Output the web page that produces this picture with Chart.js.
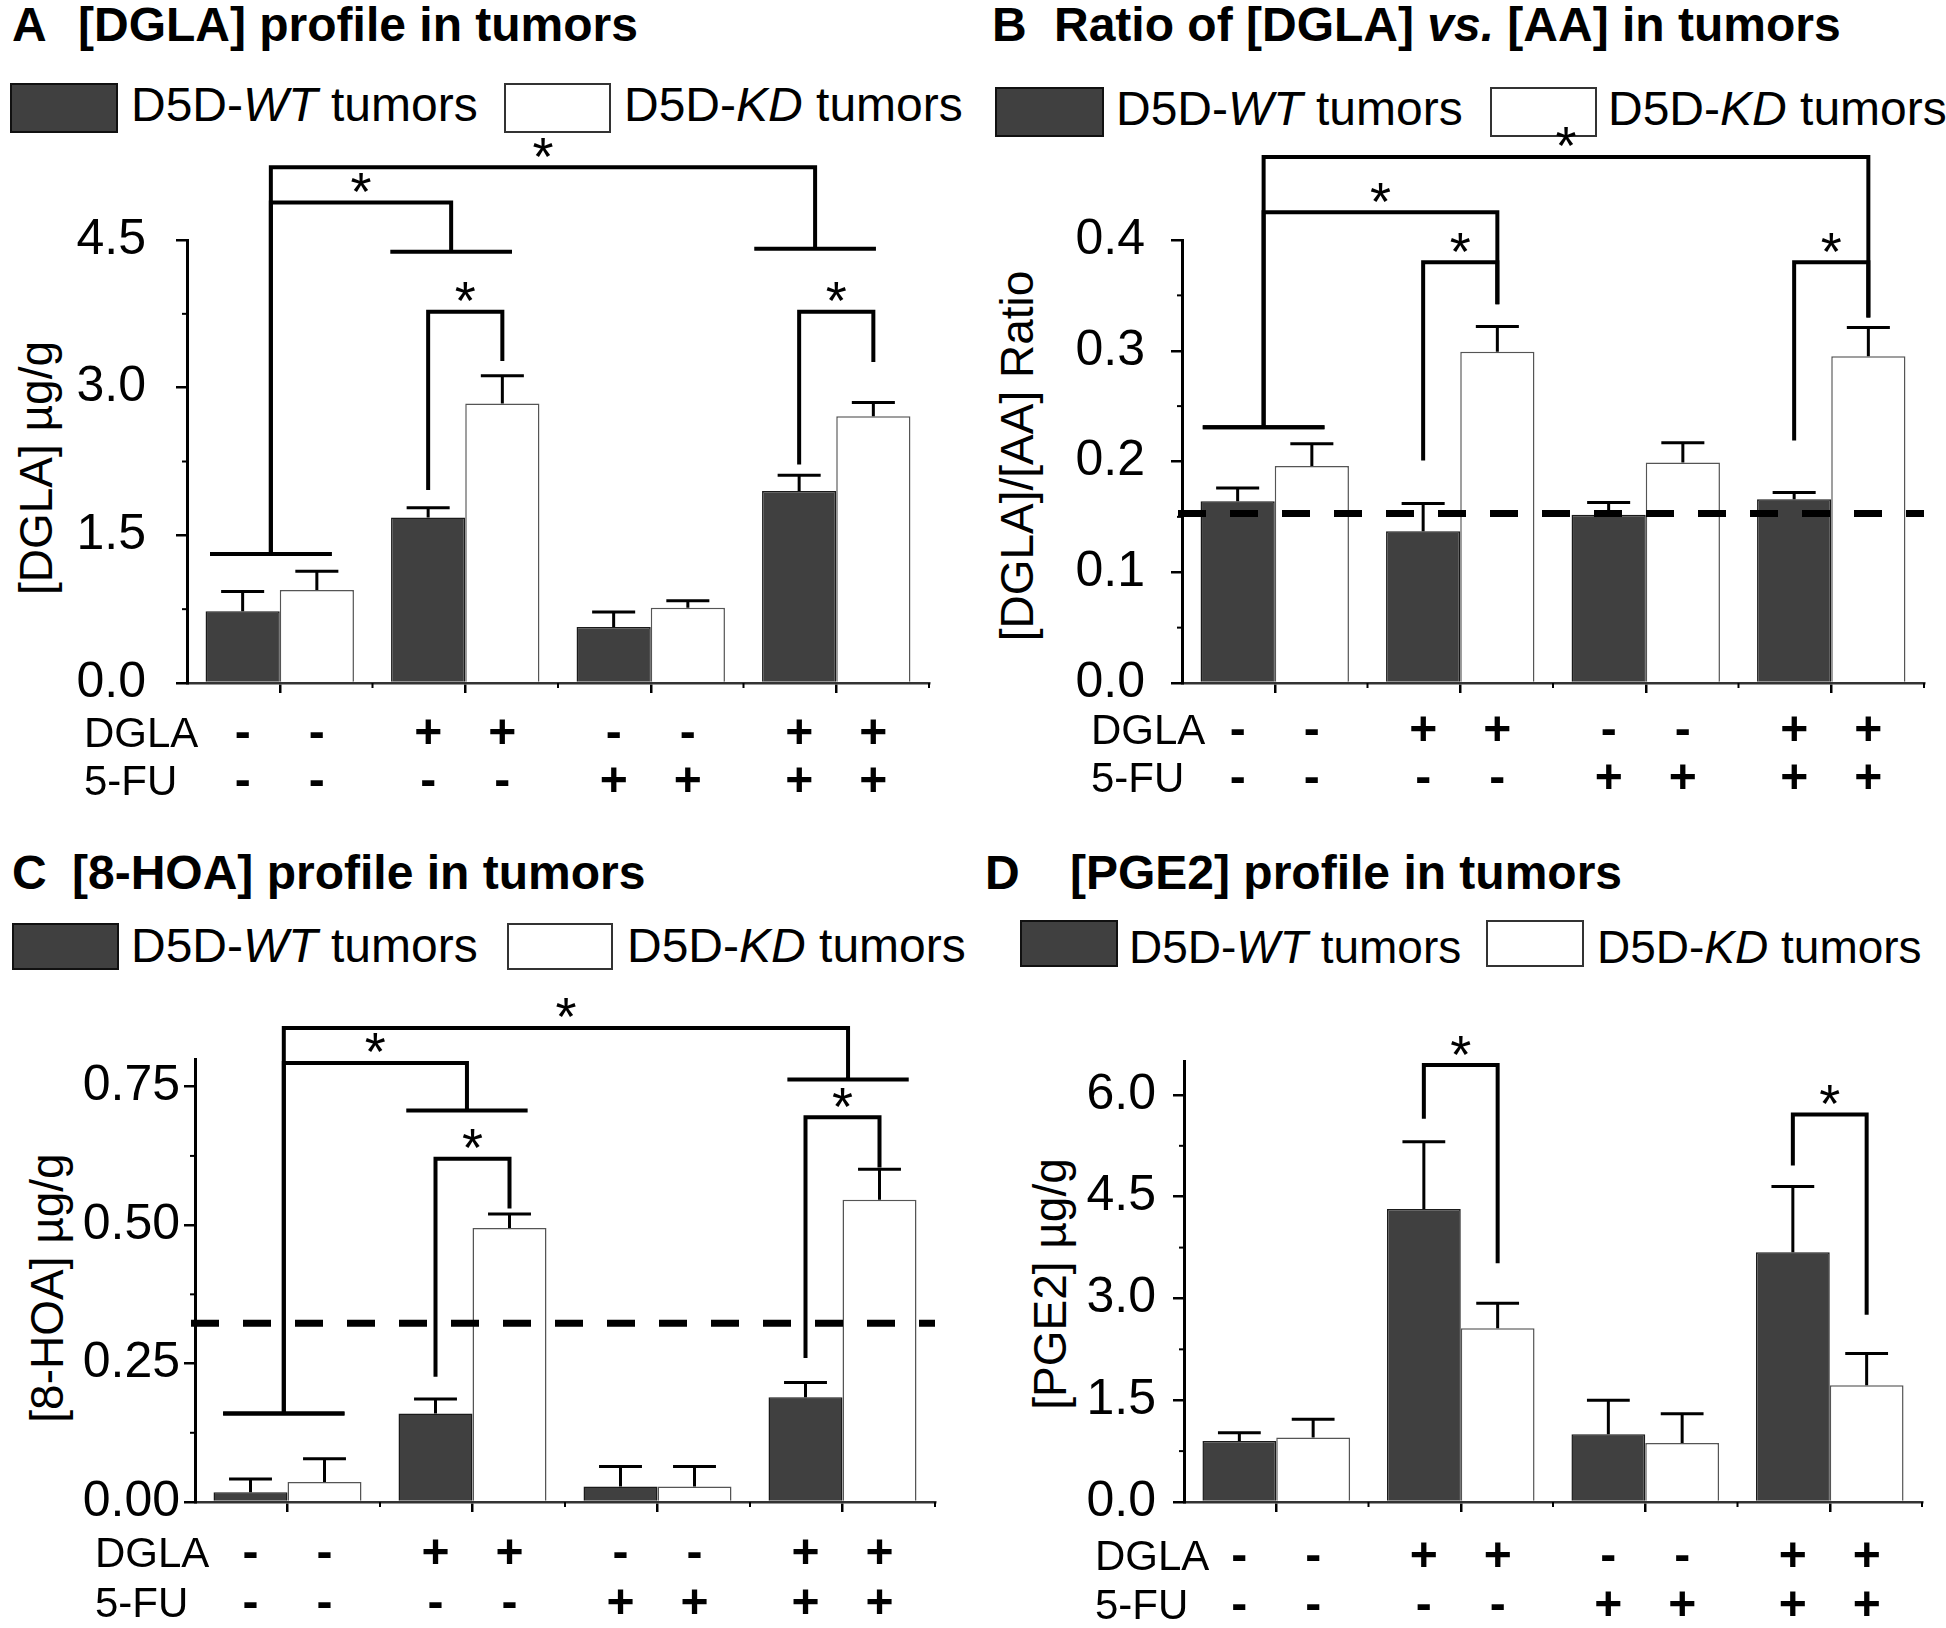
<!DOCTYPE html>
<html>
<head>
<meta charset="utf-8">
<script src="https://cdn.jsdelivr.net/npm/chart.js@4.4.0/dist/chart.umd.min.js"></script>
<style>
  html, body { margin: 0; padding: 0; background: #fff; }
  body { width: 1946px; height: 1628px; position: relative; overflow: hidden;
         font-family: "Liberation Sans", Arial, sans-serif; color: #000; }
  .title { position: absolute; font-weight: bold; font-size: 48px; line-height: 48px; white-space: nowrap; }
  .leg { position: absolute; font-size: 48px; line-height: 48px; white-space: nowrap; }
  .box { position: absolute; box-sizing: border-box; border: 2px solid #111; }
  .box.dark { background: #404040; }
  .box.light { background: #fff; border-color: #333; }
  .ytitle { position: absolute; font-size: 46px; line-height: 46px; white-space: nowrap;
            transform: translate(-50%, -50%) rotate(-90deg); }
  canvas { position: absolute; }
</style>
</head>
<body>

<!-- panel titles -->
<div class="title" style="left:12px;top:1px">A</div>
<div class="title" style="left:78px;top:1px">[DGLA] profile in tumors</div>
<div class="title" style="left:992px;top:1px">B</div>
<div class="title" style="left:1054px;top:1px">Ratio of [DGLA] <i>vs.</i> [AA] in tumors</div>
<div class="title" style="left:12px;top:849px">C</div>
<div class="title" style="left:72px;top:849px">[8-HOA] profile in tumors</div>
<div class="title" style="left:985px;top:849px">D</div>
<div class="title" style="left:1070px;top:849px">[PGE2] profile in tumors</div>

<!-- legends -->
<div class="box dark" style="left:10px;top:83px;width:108px;height:50px"></div>
<div class="leg" style="left:131px;top:81px">D5D-<i>WT</i> tumors</div>
<div class="box light" style="left:504px;top:83px;width:107px;height:50px"></div>
<div class="leg" style="left:624px;top:81px">D5D-<i>KD</i> tumors</div>

<div class="box dark" style="left:995px;top:87px;width:109px;height:50px"></div>
<div class="leg" style="left:1116px;top:85px">D5D-<i>WT</i> tumors</div>
<div class="box light" style="left:1490px;top:87px;width:107px;height:50px"></div>
<div class="leg" style="left:1608px;top:85px">D5D-<i>KD</i> tumors</div>

<div class="box dark" style="left:12px;top:923px;width:107px;height:47px"></div>
<div class="leg" style="left:131px;top:922px">D5D-<i>WT</i> tumors</div>
<div class="box light" style="left:507px;top:923px;width:106px;height:47px"></div>
<div class="leg" style="left:627px;top:922px">D5D-<i>KD</i> tumors</div>

<div class="box dark" style="left:1020px;top:920px;width:98px;height:47px"></div>
<div class="leg" style="left:1129px;top:923px;font-size:46px">D5D-<i>WT</i> tumors</div>
<div class="box light" style="left:1486px;top:920px;width:98px;height:47px"></div>
<div class="leg" style="left:1597px;top:923px;font-size:46px">D5D-<i>KD</i> tumors</div>

<!-- y axis titles -->
<div class="ytitle" style="left:36px;top:468px">[DGLA] µg/g</div>
<div class="ytitle" style="left:1017px;top:456px">[DGLA]/[AA] Ratio</div>
<div class="ytitle" style="left:47px;top:1288px">[8-HOA] µg/g</div>
<div class="ytitle" style="left:1050px;top:1284px">[PGE2] µg/g</div>

<canvas id="chartA" width="973" height="710" style="left:0;top:110px"></canvas>
<canvas id="chartB" width="973" height="710" style="left:973px;top:110px"></canvas>
<canvas id="chartC" width="973" height="648" style="left:0;top:980px"></canvas>
<canvas id="chartD" width="973" height="648" style="left:973px;top:980px"></canvas>

<script>
const FONT = '"Liberation Sans", Arial, sans-serif';

// treatment groups and the +/- rows under the bars
const groups = ['Control', 'DGLA', '5-FU', 'DGLA + 5-FU'];
const dglaSigns = ['-', '+', '-', '+'];
const fuSigns = ['-', '-', '+', '+'];

// A: [DGLA] ug/g
const dglaWT = [0.73, 1.68, 0.57, 1.95];
const dglaWTErr = [0.20, 0.10, 0.15, 0.16];
const dglaKD = [0.945, 2.84, 0.765, 2.71];
const dglaKDErr = [0.19, 0.28, 0.07, 0.14];

// B: [DGLA]/[AA] ratio
const ratioWT = [0.164, 0.137, 0.152, 0.166];
const ratioWTErr = [0.012, 0.025, 0.011, 0.006];
const ratioKD = [0.196, 0.299, 0.199, 0.295];
const ratioKDErr = [0.020, 0.023, 0.018, 0.026];
const ratioRef = 0.153;

// C: [8-HOA] ug/g
const hoaWT = [0.0175, 0.160, 0.028, 0.189];
const hoaWTErr = [0.024, 0.026, 0.036, 0.027];
const hoaKD = [0.036, 0.495, 0.028, 0.546];
const hoaKDErr = [0.042, 0.025, 0.036, 0.055];
const hoaRef = 0.323;

// D: [PGE2] ug/g
const pgeWT = [0.90, 4.32, 1.00, 3.68];
const pgeWTErr = [0.12, 0.99, 0.50, 0.97];
const pgeKD = [0.95, 2.56, 0.87, 1.72];
const pgeKDErr = [0.27, 0.37, 0.43, 0.47];

// significance brackets: x refs are [group, pos] (pos -1 = WT bar, 0 = group centre, 1 = KD bar)
const bracketsA = [
    { x1: [0, -0.24], x2: [3, -0.57], top: 5.24, y1: 1.31, y2: 4.41, t1: true, t2: true },
    { x1: [0, -0.24], x2: [1, -0.38], top: 4.88, y1: 1.31, y2: 4.38, t1: true, t2: true },
    { x1: [1, -1], x2: [1, 1], top: 3.77, y1: 1.96, y2: 3.27 },
    { x1: [3, -1], x2: [3, 1], top: 3.77, y1: 2.22, y2: 3.26 }
];
const bracketsB = [
    { x1: [0, -0.3], x2: [3, 1], top: 0.475, y1: 0.231, y2: 0.33, t1: true },
    { x1: [0, -0.3], x2: [1, 1], top: 0.425, y1: 0.231, y2: 0.342, t1: true },
    { x1: [1, -1], x2: [1, 1], top: 0.38, y1: 0.201, y2: 0.342 },
    { x1: [3, -1], x2: [3, 1], top: 0.38, y1: 0.219, y2: 0.33 }
];
const bracketsC = [
    { x1: [0, -0.1], x2: [3, 0.15], top: 0.856, y1: 0.16, y2: 0.763, t1: true, t2: true },
    { x1: [0, -0.1], x2: [1, -0.15], top: 0.793, y1: 0.16, y2: 0.707, t1: true, t2: true },
    { x1: [1, -1], x2: [1, 1], top: 0.62, y1: 0.226, y2: 0.53 },
    { x1: [3, -1], x2: [3, 1], top: 0.695, y1: 0.26, y2: 0.604 }
];
const bracketsD = [
    { x1: [1, -1], x2: [1, 1], top: 6.44, y1: 5.65, y2: 3.52 },
    { x1: [3, -1], x2: [3, 1], top: 5.71, y1: 4.96, y2: 2.76 }
];

function extrasPlugin(cfg) {
    return {
        id: 'extras',
        afterDatasetsDraw(chart) {
            const ctx = chart.ctx;
            const ys = chart.scales.y;
            const area = chart.chartArea;
            const m0 = chart.getDatasetMeta(0).data;
            const m1 = chart.getDatasetMeta(1).data;
            ctx.save();
            ctx.strokeStyle = '#000';
            ctx.fillStyle = '#000';

            // error bars (upper only)
            [[m0, cfg.wt, cfg.wtErr], [m1, cfg.kd, cfg.kdErr]].forEach(([els, vals, errs]) => {
                els.forEach((el, j) => {
                    const yb = ys.getPixelForValue(vals[j]);
                    const ye = ys.getPixelForValue(vals[j] + errs[j]);
                    const half = el.width * 0.29;
                    ctx.lineWidth = 3;
                    ctx.beginPath();
                    ctx.moveTo(el.x, yb);
                    ctx.lineTo(el.x, ye);
                    ctx.moveTo(el.x - half, ye);
                    ctx.lineTo(el.x + half, ye);
                    ctx.stroke();
                });
            });

            // dashed reference line
            if (cfg.ref !== undefined) {
                const yr = ys.getPixelForValue(cfg.ref);
                ctx.lineWidth = 7;
                ctx.setLineDash([28, 24]);
                ctx.beginPath();
                ctx.moveTo(area.left - 4, yr);
                ctx.lineTo(area.right, yr);
                ctx.stroke();
                ctx.setLineDash([]);
            }

            // minor y ticks
            ctx.lineWidth = 2;
            for (let v = cfg.step / 2; v < cfg.max + 1e-9; v += cfg.step) {
                const py = ys.getPixelForValue(v);
                ctx.beginPath();
                ctx.moveTo(area.left - 5, py);
                ctx.lineTo(area.left, py);
                ctx.stroke();
            }
            // short x ticks at group boundaries
            const catW = (area.right - area.left) / groups.length;
            for (let k = 1; k <= groups.length; k++) {
                const px = area.left + k * catW;
                ctx.beginPath();
                ctx.moveTo(px, area.bottom);
                ctx.lineTo(px, area.bottom + 5);
                ctx.stroke();
            }

            // brackets
            const xAt = ([g, pos]) => {
                const c = (m0[g].x + m1[g].x) / 2;
                const h = (m1[g].x - m0[g].x) / 2;
                return c + pos * h;
            };
            const tHalf = m0[0].width * 0.82;
            ctx.lineWidth = 4;
            ctx.lineJoin = 'miter';
            cfg.brackets.forEach(b => {
                const xa = xAt(b.x1), xb = xAt(b.x2);
                const yt = ys.getPixelForValue(b.top);
                const y1 = ys.getPixelForValue(b.y1);
                const y2 = ys.getPixelForValue(b.y2);
                ctx.beginPath();
                ctx.moveTo(xa, y1);
                ctx.lineTo(xa, yt);
                ctx.lineTo(xb, yt);
                ctx.lineTo(xb, y2);
                if (b.t1) { ctx.moveTo(xa - tHalf, y1); ctx.lineTo(xa + tHalf, y1); }
                if (b.t2) { ctx.moveTo(xb - tHalf, y2); ctx.lineTo(xb + tHalf, y2); }
                ctx.stroke();

                ctx.font = '54px ' + FONT;
                ctx.textAlign = 'center';
                ctx.textBaseline = 'alphabetic';
                const m = ctx.measureText('*');
                const cy = yt - 20;
                ctx.fillText('*', (xa + xb) / 2, cy + (m.actualBoundingBoxAscent - m.actualBoundingBoxDescent) / 2);
            });

            // treatment rows
            ctx.textBaseline = 'middle';
            ctx.textAlign = 'left';
            ctx.font = '42px ' + FONT;
            ctx.fillText('DGLA', cfg.rowX, cfg.rowY[0]);
            ctx.fillText('5-FU', cfg.rowX, cfg.rowY[1]);
            ctx.textAlign = 'center';
            ctx.font = 'bold 48px ' + FONT;
            groups.forEach((g, j) => {
                [m0[j], m1[j]].forEach(el => {
                    ctx.fillText(dglaSigns[j], el.x, cfg.rowY[0]);
                    ctx.fillText(fuSigns[j], el.x, cfg.rowY[1]);
                });
            });
            ctx.restore();
        }
    };
}

function makePanel(cfg) {
    const canvas = document.getElementById(cfg.id);
    const W = canvas.width, H = canvas.height;
    const a = cfg.area;
    new Chart(canvas, {
        type: 'bar',
        data: {
            labels: groups,
            datasets: [{
                label: 'D5D-WT tumors',
                data: cfg.wt,
                backgroundColor: '#404040',
                borderColor: '#1a1a1a',
                borderWidth: 1.5
            }, {
                label: 'D5D-KD tumors',
                data: cfg.kd,
                backgroundColor: '#ffffff',
                borderColor: '#555555',
                borderWidth: 1.5
            }]
        },
        options: {
            responsive: false,
            animation: false,
            events: [],
            categoryPercentage: 0.8,
            barPercentage: 1.0,
            layout: {
                padding: { top: a.top, right: W - a.right, bottom: 0, left: 0 }
            },
            plugins: {
                legend: { display: false },
                tooltip: { enabled: false },
                title: { display: false }
            },
            scales: {
                x: {
                    offset: true,
                    grid: { display: true, drawOnChartArea: false, drawTicks: true, tickLength: 10, offset: false, color: '#000', lineWidth: 2.5 },
                    border: { display: true, color: '#333', width: 2.5 },
                    ticks: { display: false },
                    afterFit: s => { s.height = H - a.bottom; }
                },
                y: {
                    min: 0,
                    max: cfg.max,
                    grid: { display: true, drawOnChartArea: false, drawTicks: true, tickLength: 11, color: '#000', lineWidth: 2.5 },
                    border: { display: true, color: '#000', width: 3 },
                    ticks: {
                        stepSize: cfg.step,
                        includeBounds: false,
                        padding: cfg.tickPad,
                        color: '#000',
                        font: { family: FONT, size: 50 },
                        callback: v => Number(v).toFixed(cfg.decimals)
                    },
                    afterFit: s => { s.width = a.left; }
                }
            }
        },
        plugins: [extrasPlugin(cfg)]
    });
}

document.addEventListener('DOMContentLoaded', function () {
    makePanel({
        id: 'chartA', wt: dglaWT, wtErr: dglaWTErr, kd: dglaKD, kdErr: dglaKDErr,
        max: 4.5, step: 1.5, decimals: 1, tickPad: 30,
        area: { left: 187, right: 929, top: 130, bottom: 573 },
        rowX: 84, rowY: [625, 673], brackets: bracketsA
    });
    makePanel({
        id: 'chartB', wt: ratioWT, wtErr: ratioWTErr, kd: ratioKD, kdErr: ratioKDErr,
        max: 0.4, step: 0.1, decimals: 1, tickPad: 26, ref: ratioRef,
        area: { left: 209, right: 951, top: 130, bottom: 573 },
        rowX: 118, rowY: [622, 670], brackets: bracketsB
    });
    makePanel({
        id: 'chartC', wt: hoaWT, wtErr: hoaWTErr, kd: hoaKD, kdErr: hoaKDErr,
        max: 0.8, step: 0.25, decimals: 2, tickPad: 4, ref: hoaRef,
        area: { left: 195, right: 935, top: 79, bottom: 522 },
        rowX: 95, rowY: [575, 625], brackets: bracketsC
    });
    makePanel({
        id: 'chartD', wt: pgeWT, wtErr: pgeWTErr, kd: pgeKD, kdErr: pgeKDErr,
        max: 6.5, step: 1.5, decimals: 1, tickPad: 17,
        area: { left: 211, right: 949, top: 81, bottom: 522 },
        rowX: 122, rowY: [578, 627], brackets: bracketsD
    });
});
</script>
</body>
</html>
